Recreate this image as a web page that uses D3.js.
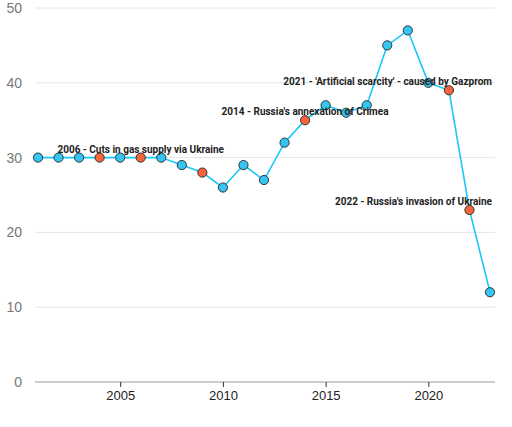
<!DOCTYPE html>
<html>
<head>
<meta charset="utf-8">
<script src="https://cdn.jsdelivr.net/npm/d3@7"></script>
<style>
  body { margin: 0; background: #fff; }
  svg { font-family: "Liberation Sans", Arial, sans-serif; }
</style>
</head>
<body>
<svg id="chart" width="512" height="427"></svg>
<script>
const years = [2001, 2002, 2003, 2004, 2005, 2006, 2007, 2008, 2009, 2010, 2011, 2012,
  2013, 2014, 2015, 2016, 2017, 2018, 2019, 2020, 2021, 2022, 2023]
const values = [30, 30, 30, 30, 30, 30, 30, 29, 28, 26, 29, 27,
  32, 35, 37, 36, 37, 45, 47, 40, 39, 23, 12]
const eventYears = [2004, 2006, 2009, 2014, 2021, 2022]
const annotations = [
  { year: 2006, label: '2006 - Cuts in gas supply via Ukraine', align: 'middle' },
  { year: 2014, label: "2014 - Russia's annexation of Crimea", align: 'middle' },
  { year: 2021, label: "2021 - 'Artificial scarcity' - caused by Gazprom", align: 'end' },
  { year: 2022, label: "2022 - Russia's invasion of Ukraine", align: 'end' }
]
const yTicks = [0, 10, 20, 30, 40, 50]
const xTicks = [2005, 2010, 2015, 2020]

const data = years.map((y, i) => ({ year: y, value: values[i], event: eventYears.includes(y) }))

const svg = d3.select('#chart')
const plotLeft = 35, plotRight = 495, plotTop = 8, plotBottom = 382

const x = d3.scaleLinear().domain([2001, 2023]).range([plotLeft + 3, plotRight - 5])
const y = d3.scaleLinear().domain([0, 50]).range([plotBottom, plotTop])

// grid
svg.append('g').selectAll('line').data(yTicks.filter(d => d > 0)).enter().append('line')
  .attr('x1', plotLeft).attr('x2', plotRight)
  .attr('y1', d => y(d)).attr('y2', d => y(d))
  .attr('stroke', '#e6e6e6').attr('stroke-width', 1)

svg.append('g').selectAll('text').data(yTicks).enter().append('text')
  .attr('x', 22).attr('y', d => y(d)).attr('dy', '0.35em')
  .attr('text-anchor', 'end')
  .attr('fill', '#777').attr('font-size', 14)
  .text(d => d)

// x axis
const xAxis = d3.axisBottom(x).tickValues(xTicks).tickFormat(d3.format('d')).tickSize(5).tickPadding(4)
const gx = svg.append('g').attr('transform', `translate(0,${plotBottom})`).call(xAxis)
gx.select('.domain').attr('d', `M${plotLeft},0H${plotRight}`).attr('stroke', '#999')
gx.selectAll('.tick line').attr('stroke', '#333')
gx.selectAll('.tick text').attr('fill', '#222').attr('font-size', 13)
  .attr('font-family', '"Liberation Sans", Arial, sans-serif')

// line
const line = d3.line().x(d => x(d.year)).y(d => y(d.value))
svg.append('path').datum(data)
  .attr('d', line).attr('fill', 'none')
  .attr('stroke', '#1ac6fb').attr('stroke-width', 1.6)

// points
svg.append('g').selectAll('circle').data(data).enter().append('circle')
  .attr('cx', d => x(d.year)).attr('cy', d => y(d.value)).attr('r', 4.6)
  .attr('fill', d => d.event ? '#f6643c' : '#35c5f3')
  .attr('stroke', '#222').attr('stroke-width', 0.9)

// annotations
svg.append('g').selectAll('text').data(annotations).enter().append('text')
  .attr('x', d => d.align === 'end' ? plotRight - 3 : x(d.year))
  .attr('y', d => y(values[years.indexOf(d.year)]) - 5)
  .attr('text-anchor', d => d.align)
  .attr('font-family', 'Roboto, "Liberation Sans", sans-serif')
  .attr('font-size', 10).attr('font-weight', 'bold').attr('fill', '#222')
  .text(d => d.label)
</script>
</body>
</html>
